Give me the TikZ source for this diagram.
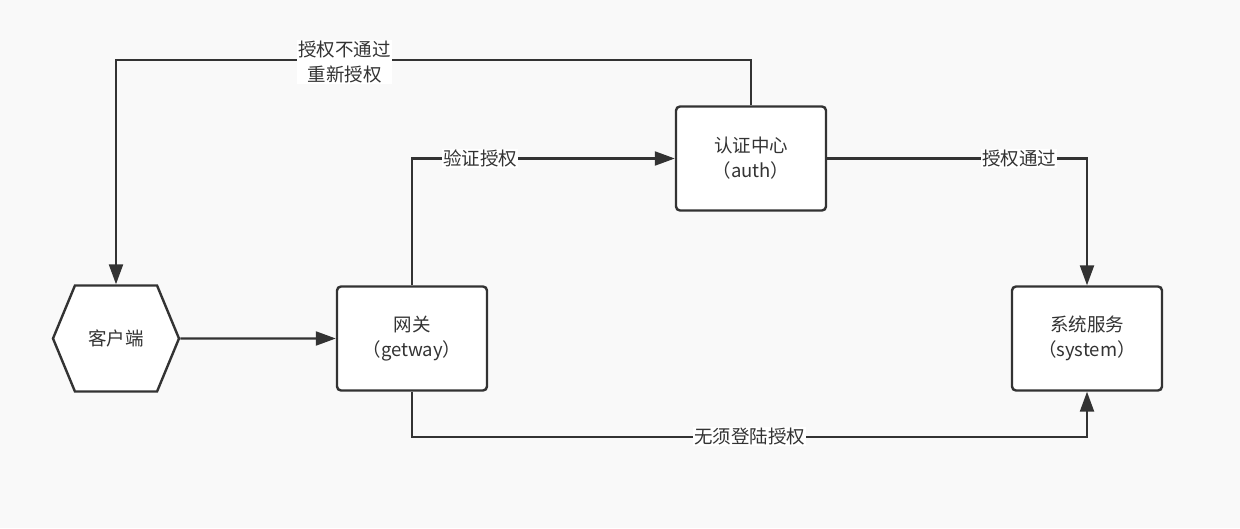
\documentclass[tikz,border=0pt]{standalone}
\usepackage{fontspec}
\newfontfamily\cjk{Noto Sans CJK SC}
\usetikzlibrary{arrows.meta,positioning,shapes.symbols}
\definecolor{bg}{RGB}{249,249,249}
\definecolor{ink}{RGB}{51,51,51}

\begin{document}
\begin{tikzpicture}[x=1pt,y=1pt,on grid,font=\cjk\fontsize{18.5}{25}\selectfont,text=ink,
   box/.style={draw=ink,line width=2.4pt,rounded corners=4pt,fill=white,
               minimum width=150pt,minimum height=104pt,align=center},
   hex/.style={signal,signal to=west and east,signal pointer angle=135,
               draw=ink,line width=2.4pt,fill=white,minimum width=126pt,minimum height=106pt},
   link/.style={draw=ink,line width=2.2pt,-{Triangle[length=20pt,width=14pt]}},
   lbl/.style={fill=white,inner sep=1pt,align=center}]
   \fill[bg] (0,0) rectangle (1240,528);
   \node[hex] (client) at (116,189.5) {客户端};
   \node[box] (gw)   [right=296pt of client] {网关\\（getway）};
   \node[box] (auth) [above right=180pt and 339pt of gw] {认证中心\\（auth）};
   \node[box] (sys)  [right=675pt of gw] {系统服务\\（system）};
   % client -> gateway -> auth
   \path[link] (client) -- (gw);
   \path[link] (gw.north) |- node[lbl,pos=0.63] {验证授权} (auth.west);
   % auth results
   \path[link] (auth.north) -- ++(0,45) coordinate (back)
      -- node[lbl,pos=0.64,yshift=-2pt] {授权不通过\\重新授权} (back -| client.north) -- (client.north);
   \path[link] (auth.east) -| node[lbl,pos=0.37] {授权通过} (sys.north);
   % no login needed
   \path[link] (gw.south) -- ++(0,-45) coordinate (skip)
      -- node[lbl] {无须登陆授权} (skip -| sys.south) -- (sys.south);
\end{tikzpicture}
\end{document}
